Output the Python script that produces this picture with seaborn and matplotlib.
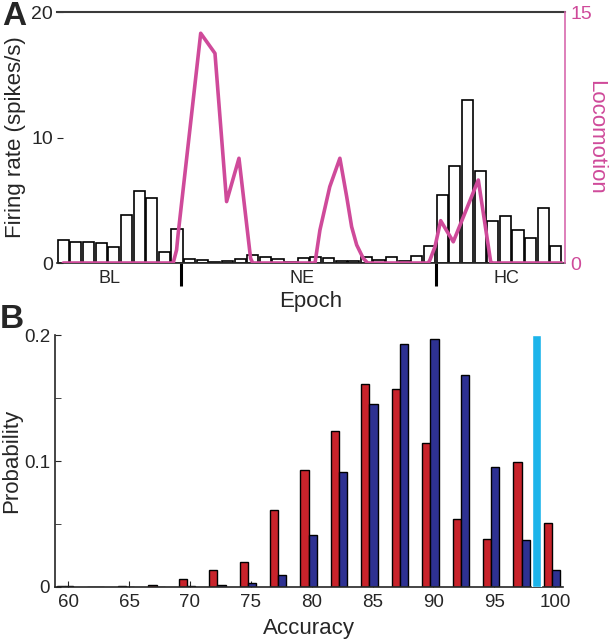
"""
Firing rate vs epoch with locomotion overlay (A) and accuracy distributions (B).
"""
import matplotlib
matplotlib.use("Agg")
import matplotlib.pyplot as plt
import numpy as np
import pandas as pd
import seaborn as sns

# ─── Panel A data ─────────────────────────────────────────────────────────────
bl_rates = [1.85, 1.64, 1.64, 1.56, 1.30, 3.84, 5.77, 5.19, 0.85, 2.70]
ne_rates = [0.32, 0.26, 0.10, 0.13, 0.30, 0.64, 0.45, 0.30, 0.10, 0.40,
            0.48, 0.37, 0.19, 0.19, 0.48, 0.26, 0.45, 0.13, 0.53, 1.32]
hc_rates = [5.38, 7.73, 12.98, 7.34, 3.31, 3.71, 2.60, 1.99, 4.37, 1.32]

# locomotion trace, x in bin units (bin i spans i..i+1)
loco_x = [0.5, 9.2, 9.47, 9.6, 11.38, 12.51, 13.43, 14.41, 15.33, 15.5,
          20.43, 20.82, 21.6, 22.4, 22.94, 23.33, 23.73, 24.25, 24.6,
          29.4, 29.53, 29.93, 30.38, 31.38, 33.36, 34.34, 34.45, 39.96]
loco_y = [0, 0, 0.78, 1.78, 13.73, 12.53, 3.67, 6.26, 0.28, 0,
          0, 1.97, 4.56, 6.26, 3.96, 2.17, 1.08, 0.28, 0,
          0, 0.18, 0.97, 2.53, 1.27, 4.96, 0.08, 0, 0]

epoch_names = ["BL", "NE", "HC"]
epoch_label_x = [4.14, 19.37, 35.6]
epoch_bounds = [9.8, 30.0]

# ─── Panel B data ─────────────────────────────────────────────────────────────
acc_bins = [59.75, 62.25, 64.75, 67.25, 69.75, 72.25, 74.75, 77.25, 79.75,
            82.25, 84.75, 87.25, 89.75, 92.25, 94.75, 97.25, 99.75]
prob_red = [0.0008, 0, 0.0005, 0.0012, 0.0063, 0.0137, 0.020, 0.061, 0.0925,
            0.124, 0.161, 0.157, 0.114, 0.0536, 0.038, 0.099, 0.051]
prob_blue = [0.0005, 0, 0, 0.0003, 0.0005, 0.0013, 0.0032, 0.0098, 0.041,
             0.0914, 0.145, 0.193, 0.197, 0.168, 0.095, 0.0375, 0.0137]
observed_acc = 98.5
observed_prob = 0.2

PINK = "#CF4A9A"
RED = "#C8232B"
BLUE = "#2E3192"
CYAN = "#1CB4EA"

sns.set_style("ticks")
plt.rcParams["font.family"] = ["Liberation Sans", "DejaVu Sans"]

fig = plt.figure(figsize=(6.12, 6.39), dpi=100)

# ─── Panel A ──────────────────────────────────────────────────────────────────
rates = bl_rates + ne_rates + hc_rates
df_a = pd.DataFrame({"bin": np.arange(len(rates)), "rate": rates})

axA = fig.add_axes([0.0931, 0.5884, 0.830, 0.3928])
sns.barplot(data=df_a, x="bin", y="rate", color="white", edgecolor="black",
            linewidth=1.2, width=0.88, saturation=1, ax=axA)
axA.set_ylim(0, 20)
axA.set_yticks([0, 10, 20])
axA.tick_params(axis="y", direction="in", length=4, labelsize=14, pad=3)
axA.set_xticks([x - 0.5 for x in epoch_label_x])
axA.set_xticklabels(epoch_names, fontsize=13)
axA.tick_params(axis="x", length=0, pad=5)
axA.set_xlabel("Epoch", fontsize=16, labelpad=3)
axA.set_ylabel("Firing rate (spikes/s)", fontsize=16, labelpad=4)
axA.spines["left"].set_visible(False)
axA.spines["right"].set_visible(False)
axA.spines["top"].set_color("#3a3a3a")
axA.spines["top"].set_linewidth(1.5)
axA.spines["bottom"].set_linewidth(1.2)
axA.vlines([b - 0.5 for b in epoch_bounds], -1.8, 0, color="black",
           lw=2.2, clip_on=False)

axL = axA.twinx()
sns.lineplot(x=[x - 0.5 for x in loco_x], y=loco_y, color=PINK, lw=2.6,
             sort=False, ax=axL)
axL.set_ylim(0, 15)
axL.set_yticks([0, 15])
axL.tick_params(axis="y", direction="in", length=0, colors=PINK,
                labelsize=14, pad=4)
axL.set_ylabel("Locomotion", color=PINK, fontsize=16, rotation=270, labelpad=10)
for s in ["top", "left", "bottom"]:
    axL.spines[s].set_visible(False)
axL.spines["right"].set_color("#D86AAE")
axL.spines["right"].set_linewidth(1.2)
axA.set_xlim(-0.5, 39.72)

# ─── Panel B ──────────────────────────────────────────────────────────────────
df_b = pd.DataFrame({
    "acc": acc_bins * 2,
    "prob": prob_red + prob_blue,
    "group": ["red"] * len(acc_bins) + ["blue"] * len(acc_bins),
})

axB = fig.add_axes([0.0899, 0.0814, 0.830, 0.3943])
sns.barplot(data=df_b, x="acc", y="prob", hue="group",
            palette={"red": RED, "blue": BLUE}, native_scale=True,
            width=0.54, edgecolor="black", linewidth=1.0, saturation=1,
            legend=False, ax=axB)
axB.bar(observed_acc, observed_prob, width=0.75, color=CYAN, zorder=3)
axB.set_xlim(58.91, 100.65)
axB.set_ylim(0, 0.2)
axB.set_xticks(range(60, 101, 5))
axB.set_yticks([0, 0.1, 0.2])
axB.set_yticklabels(["0", "0.1", "0.2"])
axB.set_yticks([0.05, 0.15], minor=True)
axB.tick_params(axis="both", which="both", direction="in", labelsize=13.5)
axB.tick_params(axis="both", which="major", length=4)
axB.tick_params(axis="y", which="minor", length=4)
axB.tick_params(axis="x", pad=5)
axB.set_xlabel("Accuracy", fontsize=16, labelpad=5)
axB.set_ylabel("Probability", fontsize=16, labelpad=1)
sns.despine(ax=axB)
axB.spines["left"].set_linewidth(1.2)
axB.spines["bottom"].set_linewidth(1.2)

fig.text(0.003, 0.998, "A", fontsize=24, fontweight="bold", va="top")
fig.text(0.0, 0.525, "B", fontsize=24, fontweight="bold", va="top")

fig.savefig("out.png", dpi=100)
